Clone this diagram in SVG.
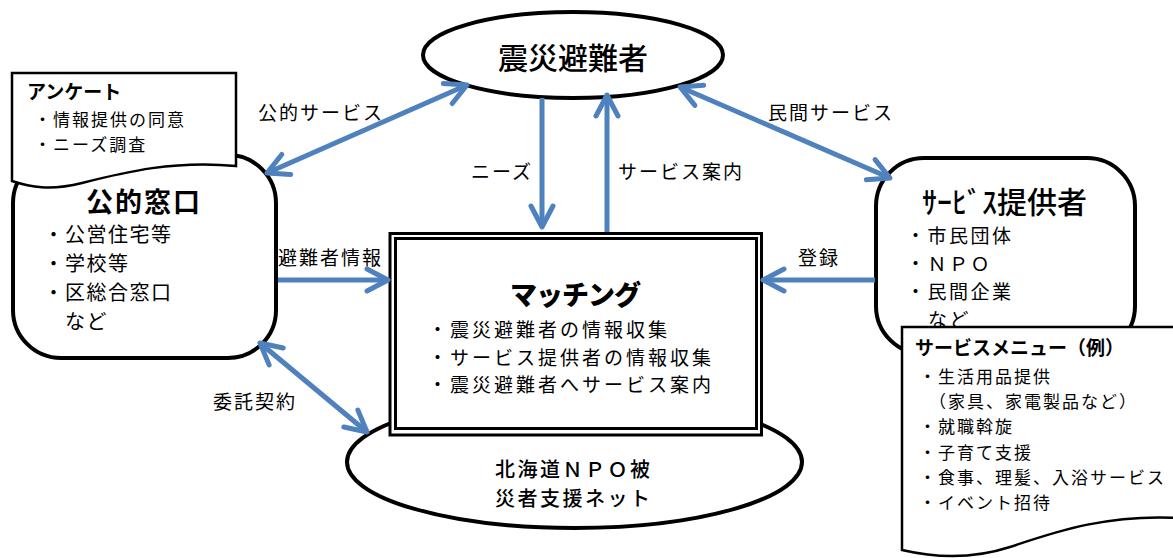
<svg xmlns="http://www.w3.org/2000/svg" width="1173" height="558" viewBox="0 0 1173 558">
<style>
text{font-family:"Noto Sans CJK JP","Noto Sans CJK SC",sans-serif;fill:#000;}
.node{fill:#fff;stroke:#000;stroke-width:4;}
.doc{fill:#fff;stroke:#000;stroke-width:2.5;stroke-linejoin:miter;}
.conn{fill:none;stroke:#4F81BD;stroke-width:5;}
.lbl{font-size:19px;letter-spacing:2px;dominant-baseline:central;}
.item{font-size:20px;letter-spacing:1.5px;dominant-baseline:central;}
.pitem{font-size:19px;letter-spacing:2.5px;dominant-baseline:central;}
.mitem{font-size:19px;letter-spacing:3px;dominant-baseline:central;}
.small{font-size:17px;letter-spacing:2px;dominant-baseline:central;}
.title{dominant-baseline:central;}
</style>
<defs>
<marker id="ah" viewBox="0 0 30 30" refX="25" refY="15" markerWidth="30" markerHeight="30" markerUnits="userSpaceOnUse" orient="auto-start-reverse">
<path d="M4,4 L25,15 L4,26" fill="none" stroke="#4F81BD" stroke-width="5" stroke-linecap="round" stroke-linejoin="round"/>
</marker>
</defs>

<g id="node-hinansha">
<ellipse class="node" cx="573" cy="55" rx="150" ry="43"/>
<text class="title" x="573" y="56" text-anchor="middle" font-size="30" font-weight="500">震災避難者</text>
</g>

<g id="node-koteki">
<rect class="node" x="13" y="155" width="263" height="203" rx="48" ry="48"/>
<text class="title" x="144" y="200" text-anchor="middle" font-size="27" font-weight="bold" letter-spacing="2">公的窓口</text>
<text class="item" x="43.5" y="233">・公営住宅等</text>
<text class="item" x="43.5" y="262">・学校等</text>
<text class="item" x="43.5" y="291">・区総合窓口</text>
<text class="item" x="65" y="320">など</text>
</g>

<g id="node-anketo">
<path class="doc" d="M12,73 H236 V166 C 175,160 125,172 82,183 C 50,191 30,187 12,181 Z"/>
<text class="title" x="27" y="90" font-size="19" font-weight="bold">アンケート</text>
<text class="small" x="34" y="118" letter-spacing="2.5">・情報提供の同意</text>
<text class="small" x="34" y="143" letter-spacing="2.5">・ニーズ調査</text>
</g>

<g id="node-npo">
<ellipse class="node" cx="574.5" cy="462" rx="227.5" ry="66"/>
<text class="title" x="495" y="468" font-size="20" font-weight="500" letter-spacing="2.5">北海道ＮＰＯ被</text>
<text class="title" x="495" y="497" font-size="20" font-weight="500" letter-spacing="2.5">災者支援ネット</text>
</g>

<g id="node-matching">
<rect x="390" y="233.5" width="371.5" height="201.5" fill="#fff" stroke="#000" stroke-width="3"/>
<rect x="395.5" y="238.5" width="361" height="190" fill="none" stroke="#000" stroke-width="3"/>
<text class="title" x="575" y="293" text-anchor="middle" font-size="27" font-weight="900" letter-spacing="-1">マッチング</text>
<text class="mitem" x="428" y="328">・震災避難者の情報収集</text>
<text class="mitem" x="428" y="356">・サービス提供者の情報収集</text>
<text class="mitem" x="428" y="383">・震災避難者へサービス案内</text>
</g>

<g id="node-provider">
<rect class="node" x="876" y="158" width="259" height="196" rx="48" ry="48"/>
<text class="title" x="922" y="200" font-size="30" font-weight="500">ｻｰﾋﾞｽ提供者</text>
<text class="pitem" x="906" y="234">・市民団体</text>
<text class="pitem" x="906" y="262">・ＮＰＯ</text>
<text class="pitem" x="906" y="290">・民間企業</text>
<text class="pitem" x="928" y="318">など</text>
</g>

<g id="node-menu">
<path class="doc" d="M902,327 H1180 V518 C 1110,514 1060,530 1010,547 C 970,560 932,557 902,550 Z"/>
<text class="title" x="915" y="346" font-size="19" font-weight="bold">サービスメニュー（例）</text>
<text class="small" x="919" y="375">・生活用品提供</text>
<text class="small" x="929" y="400">（家具、家電製品など）</text>
<text class="small" x="919" y="425">・就職斡旋</text>
<text class="small" x="919" y="451">・子育て支援</text>
<text class="small" x="919" y="476">・食事、理髪、入浴サービス</text>
<text class="small" x="919" y="501">・イベント招待</text>
</g>

<g id="connectors">
<line class="conn" x1="267" y1="173" x2="467" y2="85" marker-start="url(#ah)" marker-end="url(#ah)"/>
<line class="conn" x1="542" y1="98" x2="542" y2="227" marker-end="url(#ah)"/>
<line class="conn" x1="607" y1="232" x2="607" y2="95" marker-end="url(#ah)"/>
<line class="conn" x1="680" y1="87" x2="890" y2="178" marker-start="url(#ah)" marker-end="url(#ah)"/>
<line class="conn" x1="278" y1="280" x2="388" y2="280" marker-end="url(#ah)"/>
<line class="conn" x1="875" y1="280" x2="763" y2="280" marker-end="url(#ah)"/>
<line class="conn" x1="260" y1="343" x2="367" y2="432" marker-start="url(#ah)" marker-end="url(#ah)"/>
<text class="lbl" x="258" y="111">公的サービス</text>
<text class="lbl" x="471" y="170">ニーズ</text>
<text class="lbl" x="618" y="170">サービス案内</text>
<text class="lbl" x="768" y="111">民間サービス</text>
<text class="lbl" x="278" y="256">避難者情報</text>
<text class="lbl" x="798" y="256">登録</text>
<text class="lbl" x="213" y="400">委託契約</text>
</g>
</svg>
